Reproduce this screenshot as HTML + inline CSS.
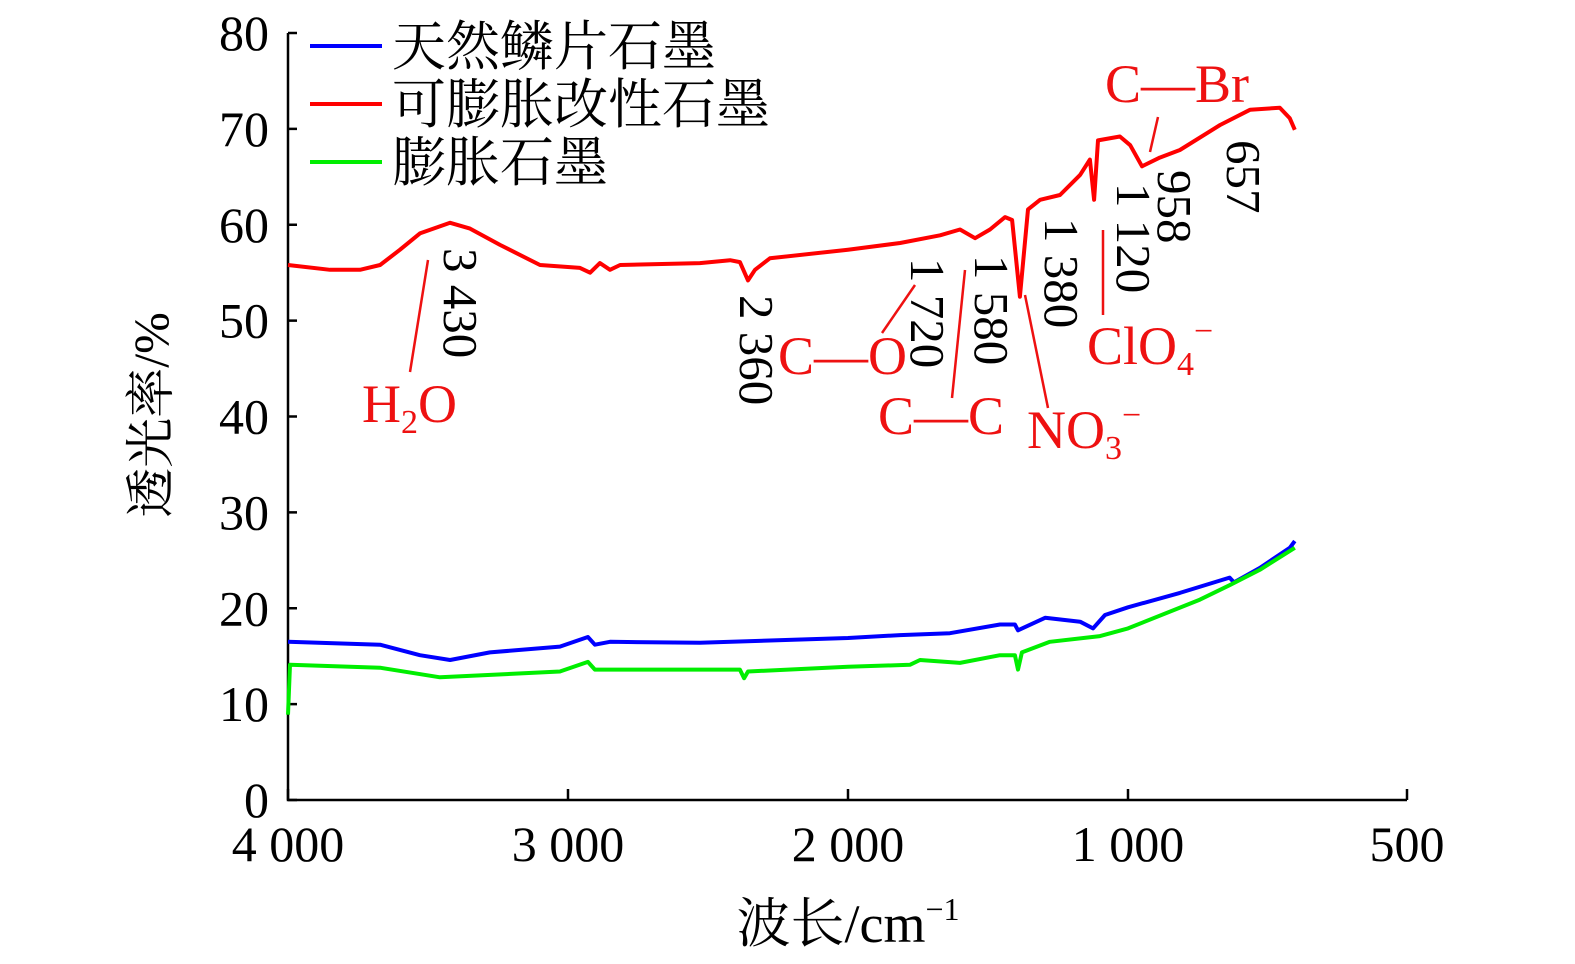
<!DOCTYPE html>
<html><head><meta charset="utf-8"><style>
body{margin:0;background:#fff}
svg{display:block;font-family:"Liberation Serif","Noto Serif CJK SC",serif}
</style></head><body>
<svg id="chart" width="1575" height="964" xmlns="http://www.w3.org/2000/svg">
<g id="axes"></g>
<g id="series"></g>
<g id="legend">
<line x1="310" y1="46" x2="382" y2="46" stroke="#0000ff" stroke-width="4"/>
<text x="392" y="65" font-size="54">天然鳞片石墨</text>
<line x1="310" y1="104" x2="382" y2="104" stroke="#ff0000" stroke-width="4"/>
<text x="392" y="123" font-size="54">可膨胀改性石墨</text>
<line x1="310" y1="162" x2="382" y2="162" stroke="#00ee00" stroke-width="4"/>
<text x="392" y="181" font-size="54">膨胀石墨</text>
</g>
<g id="annot" font-size="49">
<text transform="translate(444,248) rotate(90)">3 430</text>
<text transform="translate(740,295) rotate(90)">2 360</text>
<text transform="translate(911,258) rotate(90)">1 720</text>
<text transform="translate(975,255) rotate(90)">1 580</text>
<text transform="translate(1045,218) rotate(90)">1 380</text>
<text transform="translate(1117,183) rotate(90)">1 120</text>
<text transform="translate(1158,170) rotate(90)">958</text>
<text transform="translate(1227,140) rotate(90)">657</text>
<g fill="#ee1111" font-size="54" stroke="none">
<text x="362" y="422">H<tspan font-size="34" dy="11">2</tspan><tspan dy="-11">O</tspan></text>
<text x="778" y="374">C—O</text>
<text x="878" y="434">C—C</text>
<text x="1027" y="448">NO<tspan font-size="34" dy="11">3</tspan><tspan font-size="34" dy="-33">−</tspan></text>
<text x="1087" y="364">ClO<tspan font-size="34" dy="11">4</tspan><tspan font-size="34" dy="-33">−</tspan></text>
<text x="1105" y="102">C—Br</text>
</g>
<g stroke="#ee1111" stroke-width="2.5">
<line x1="428" y1="260" x2="410" y2="372"/>
<line x1="915" y1="285" x2="882" y2="333"/>
<line x1="965" y1="270" x2="952" y2="398"/>
<line x1="1025" y1="295" x2="1048" y2="408"/>
<line x1="1103" y1="230" x2="1103" y2="315"/>
<line x1="1158" y1="117" x2="1150" y2="152"/>
</g>
</g>
</svg>
<script>
const xTicks=[4000,3000,2000,1000,500];
const xTickLabels=["4 000","3 000","2 000","1 000","500"];
const yTicks=[0,10,20,30,40,50,60,70,80];
const redWn=[4000,3850,3743,3671,3600,3529,3421,3350,3243,3100,2957,2921,2886,2850,2814,2529,2421,2386,2357,2332,2279,2000,1814,1671,1600,1546,1493,1439,1414,1386,1357,1314,1243,1171,1136,1121,1107,1029,996,975,943,907,835,781,728,710,701];
const redVal=[55.8,55.3,55.3,55.8,57.4,59.1,60.2,59.6,57.9,55.8,55.5,55.0,56.0,55.3,55.8,56.0,56.3,56.1,54.2,55.3,56.5,57.4,58.1,58.9,59.5,58.6,59.5,60.8,60.5,52.5,61.6,62.6,63.1,65.2,66.8,62.6,68.8,69.2,68.3,66.1,67.0,67.8,70.4,72.0,72.2,71.1,69.9];
const blueWn=[4000,3671,3529,3421,3279,3029,2929,2904,2850,2529,2000,1814,1636,1457,1404,1393,1296,1171,1125,1082,1000,907,818,810,764,710,701];
const blueVal=[16.5,16.2,15.1,14.6,15.4,16.0,17.0,16.2,16.5,16.4,16.9,17.2,17.4,18.3,18.3,17.7,19.0,18.6,17.9,19.3,20.1,21.6,23.2,22.7,24.2,26.3,27.0];
const greenWn=[4000,3993,3671,3457,3029,2929,2904,2386,2371,2357,2000,1779,1743,1600,1457,1404,1393,1379,1279,1100,1000,871,818,764,701];
const greenVal=[8.9,14.1,13.8,12.8,13.4,14.4,13.6,13.6,12.7,13.4,13.9,14.1,14.6,14.3,15.1,15.1,13.6,15.4,16.5,17.1,17.9,20.9,22.4,24.0,26.3];
function X(w){return w>=1000?288+(4000-w)*0.28:1128+(1000-w)*279/500;}
function Y(v){return 800-v*9.5875;}
const NS="http://www.w3.org/2000/svg";
function mk(t,a,p){const e=document.createElementNS(NS,t);for(const k in a)e.setAttribute(k,a[k]);p.appendChild(e);return e;}
const ax=document.getElementById('axes');
let e=mk('path',{d:`M288,${Y(80)}V800H1407`,fill:'none',stroke:'#000','stroke-width':2.5},ax);


yTicks.forEach(v=>{
 const t=mk('line',{x1:288,x2:297,y1:Y(v),y2:Y(v),stroke:'#000','stroke-width':2.5},ax);
 
 
 const l=mk('text',{x:269,y:Y(v)+17,'text-anchor':'end','font-size':50},ax);
 l.textContent=v;
 
 
});
xTicks.forEach((w,i)=>{
 const t=mk('line',{x1:X(w),x2:X(w),y1:800,y2:789,stroke:'#000','stroke-width':2.5},ax);
 
 
 const l=mk('text',{x:X(w),y:861,'text-anchor':'middle','font-size':50},ax);
 l.textContent=xTickLabels[i];
 
 
});
let xt=mk('text',{x:848,y:942,'text-anchor':'middle','font-size':54},ax);
xt.innerHTML='波长/cm<tspan font-size="32" dy="-22">−1</tspan>';


let yt=mk('text',{transform:'translate(168,415) rotate(-90)','text-anchor':'middle','font-size':50},ax);
yt.textContent='透光率/%';


const sg=document.getElementById('series');
[[blueWn,blueVal,'#0000ff','series-natural-graphite'],[greenWn,greenVal,'#00ee00','series-expanded-graphite'],[redWn,redVal,'#ff0000','series-expandable-graphite']].forEach(s=>{
 const d=s[0].map((w,i)=>(i?'L':'M')+X(w).toFixed(1)+','+Y(s[1][i]).toFixed(1)).join('');
 const p=mk('path',{d:d,fill:'none',stroke:s[2],'stroke-width':4,'stroke-linejoin':'round'},sg);
 
 
});
</script>
</body></html>
